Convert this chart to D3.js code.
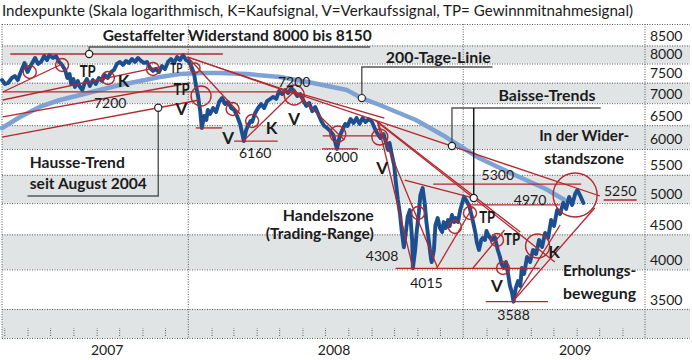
<!DOCTYPE html>
<html><head><meta charset="utf-8">
<script src="https://cdn.jsdelivr.net/npm/d3@7"></script>
<style>
body{margin:0;background:#fff}
svg{display:block}
text{font-family:Lato,"Open Sans","DejaVu Sans",sans-serif;fill:#1b1b1b}
</style></head>
<body><svg id="chart" width="692" height="360"></svg>
<script>
// ---------------- DATA ----------------
const titleText = "Indexpunkte (Skala logarithmisch, K=Kaufsignal, V=Verkaufssignal, TP= Gewinnmitnahmesignal)";
const xDomain = ["2007-04-28", "2009-08-31"];
const yDomain = [3175, 9138];
const yTicks = [8500, 8000, 7500, 7000, 6500, 6000, 5500, 5000, 4500, 4000, 3500];
const bandTops = [8500, 7500, 6500, 5500, 4500, 3500];
const bandBottoms = [8000, 7000, 6000, 5000, 4000, 3175];
const yearStarts = ["2008-01-01", "2009-01-01"];
const yearLabels = ["2007", "2008", "2009"];
const yearLabelDates = ["2007-09-15", "2008-07-13", "2009-05-30"];

const priceDates = [
"2007-04-28",
"2007-05-02","2007-05-06","2007-05-11","2007-05-15","2007-05-19","2007-05-23","2007-05-28",
"2007-06-01","2007-06-05","2007-06-11","2007-06-15","2007-06-19","2007-06-23","2007-06-27","2007-06-30",
"2007-07-05","2007-07-09","2007-07-13","2007-07-17","2007-07-21","2007-07-24","2007-07-27","2007-07-29",
"2007-08-01","2007-08-03","2007-08-07","2007-08-09","2007-08-13","2007-08-16","2007-08-19","2007-08-23","2007-08-27","2007-08-31",
"2007-09-04","2007-09-08","2007-09-12","2007-09-16","2007-09-20","2007-09-24","2007-09-28",
"2007-10-02","2007-10-06","2007-10-10","2007-10-14","2007-10-18","2007-10-22","2007-10-26","2007-10-30",
"2007-11-03","2007-11-07","2007-11-11","2007-11-15","2007-11-19","2007-11-23","2007-11-27",
"2007-12-01","2007-12-05","2007-12-09","2007-12-13","2007-12-17","2007-12-21","2007-12-25","2007-12-29",
"2008-01-02","2008-01-06","2008-01-09","2008-01-11","2008-01-14","2008-01-17","2008-01-19","2008-01-22","2008-01-25","2008-01-27","2008-01-30",
"2008-02-03","2008-02-07","2008-02-11","2008-02-15","2008-02-19","2008-02-23","2008-02-27",
"2008-03-02","2008-03-06","2008-03-10","2008-03-15","2008-03-18","2008-03-21","2008-03-24","2008-03-26","2008-03-30",
"2008-04-03","2008-04-07","2008-04-11","2008-04-15","2008-04-19","2008-04-23","2008-04-27",
"2008-05-01","2008-05-05","2008-05-09","2008-05-13","2008-05-17","2008-05-21","2008-05-25","2008-05-29",
"2008-06-02","2008-06-06","2008-06-10","2008-06-14","2008-06-18","2008-06-22","2008-06-26","2008-06-30",
"2008-07-04","2008-07-08","2008-07-12","2008-07-17","2008-07-20","2008-07-24","2008-07-28","2008-07-31",
"2008-08-04","2008-08-08","2008-08-12","2008-08-16","2008-08-20","2008-08-24","2008-08-28",
"2008-09-01","2008-09-05","2008-09-09","2008-09-13","2008-09-17","2008-09-20","2008-09-23","2008-09-25","2008-09-28",
"2008-10-01","2008-10-03","2008-10-06","2008-10-09","2008-10-11","2008-10-14","2008-10-17","2008-10-19","2008-10-22","2008-10-25","2008-10-26","2008-10-29","2008-10-31",
"2008-11-03","2008-11-05","2008-11-08","2008-11-11","2008-11-13","2008-11-16","2008-11-19","2008-11-20","2008-11-23","2008-11-25","2008-11-28",
"2008-12-01","2008-12-04","2008-12-06","2008-12-09","2008-12-12","2008-12-14","2008-12-17","2008-12-20","2008-12-22","2008-12-25","2008-12-28",
"2009-01-02","2009-01-05","2009-01-09","2009-01-13","2009-01-17","2009-01-19","2009-01-22","2009-01-25","2009-01-27","2009-01-30",
"2009-02-01","2009-02-04","2009-02-08","2009-02-12","2009-02-16","2009-02-19","2009-02-21","2009-02-24","2009-02-27",
"2009-03-02","2009-03-04","2009-03-07","2009-03-09","2009-03-12","2009-03-15","2009-03-18","2009-03-20","2009-03-23","2009-03-27","2009-03-31",
"2009-04-04","2009-04-08","2009-04-12","2009-04-16","2009-04-20","2009-04-24","2009-04-28",
"2009-05-02","2009-05-06","2009-05-10","2009-05-14","2009-05-18","2009-05-22","2009-05-26","2009-05-30",
"2009-06-02","2009-06-06","2009-06-10"
];
const priceValues = [
7568,
7467,7492,7619,7670,7568,7774,8014,
7774,7933,8150,7987,8041,8204,8095,8232,
8150,8204,8041,7960,7827,7619,7722,7467,
7594,7392,7543,7417,7317,7492,7594,7417,7568,7467,
7619,7543,7696,7619,7774,7827,7987,
8041,7960,8068,8014,8122,8041,8150,8068,
8014,8041,7880,7801,7853,7774,7933,
7853,8041,8122,8014,8177,8095,8232,8095,
8041,7880,7696,7442,7171,6795,6438,6704,6614,6841,6750,
6887,6795,7028,7123,6980,7028,6887,
6841,6704,6526,6160,6395,6504,6592,6570,6772,
6887,6980,6887,7051,7099,7147,7099,
7292,7219,7317,7244,7367,7292,7171,7219,
7075,6934,7004,6814,6910,6750,6592,6482,
6438,6374,6288,6000,6225,6395,6526,6482,
6636,6548,6659,6526,6659,6570,6636,
6592,6438,6309,6225,6309,6141,5979,6121,5879,
5684,5404,5052,4804,4567,4308,4567,4772,4885,4416,4015,4270,4536,
4852,5138,5260,4968,4691,4416,4156,4100,4270,4645,4755,
4598,4536,4691,4598,4723,4629,4804,4691,4755,4691,4885,
5104,5052,4951,4755,4536,4386,4270,4416,4446,4416,
4552,4476,4416,4461,4270,4170,4073,4019,4100,
3925,3795,3694,3588,3757,3846,3782,4019,3938,4170,4100,
4270,4212,4416,4313,4521,4446,4723,
4629,4885,4820,5002,4902,5104,4968,5155,
5225,5121,5002
];

// 200-Tage-Linie
const maDates = ["2007-04-28","2007-05-22","2007-06-17","2007-07-14","2007-08-10","2007-09-05","2007-10-02","2007-10-29","2007-11-24","2007-12-21","2008-01-16","2008-02-12","2008-03-19","2008-05-02","2008-06-15","2008-07-30","2008-08-19","2008-09-12","2008-10-30","2008-12-09","2009-01-22","2009-03-08","2009-04-21","2009-05-16"];
const maValues = [6438,6682,6911,7075,7195,7317,7442,7542,7645,7722,7748,7748,7722,7645,7492,7317,7120,6957,6614,6245,5820,5514,5243,5052];

// Trendlinien / Unterstuetzungen / Widerstaende: [startDate, startValue, endDate, endValue]
const trendLines = [
["2007-05-09",8260,"2008-02-16",8260],
["2007-04-29",7270,"2008-05-18",7270],
["2008-01-11",6440,"2008-02-15",6440],
["2008-03-02",6160,"2008-04-29",6160],
["2008-06-27",6000,"2008-08-14",6000],
["2008-06-28",6270,"2008-09-12",6270],
["2008-11-22",5330,"2009-06-07",5330],
["2009-01-07",4970,"2009-05-10",4970],
["2008-10-03",4015,"2009-04-13",4015],
["2009-01-31",3588,"2009-04-24",3588],
["2007-04-28",6246,"2008-01-16",7075],
["2007-04-29",6682,"2008-01-03",7492],
["2007-04-29",7075,"2007-11-24",7907],
["2007-04-29",7268,"2007-07-17",7987],
["2007-12-31",8177,"2009-07-02",5121],
["2007-12-31",8177,"2008-05-29",7171],
["2007-12-31",8177,"2008-03-10",6750],
["2008-05-19",7317,"2008-07-27",6183],
["2008-03-14",6160,"2008-05-23",7317],
["2008-05-22",7268,"2008-09-18",6659],
["2008-09-09",6570,"2008-10-26",4019],
["2008-09-09",6570,"2008-11-28",4019],
["2008-09-05",6614,"2009-05-03",4100],
["2008-09-08",6592,"2009-03-18",4536],
["2008-10-15",5404,"2009-01-15",5086],
["2008-11-27",4019,"2009-01-13",4918],
["2009-01-14",4019,"2009-02-25",4567],
["2009-03-08",3588,"2009-05-10",4645],
["2009-03-08",3588,"2009-06-25",4918]
];

// Signal-Kreise: [date, value, kind]
const signalCircles = [
["2007-06-04",7774,"s"],["2007-07-17",7960,"s"],["2007-09-16",7619,"s"],["2007-11-15",7853,"s"],
["2008-01-10",7880,"xs"],["2008-01-18",7171,"m"],["2008-02-29",6864,"s"],["2008-03-26",6592,"s"],
["2008-05-21",7195,"m"],["2008-07-18",6309,"sm"],["2008-09-12",6246,"sm"],["2008-11-02",4836,"s"],
["2008-12-21",4614,"s"],["2009-01-10",4836,"s"],["2009-02-15",4416,"s"],["2009-02-23",4019,"s"],
["2009-04-10",4328,"l"],["2009-05-30",5138,"xl"]
];

// Hinweislinien (Legenden-Zeiger)
const calloutPaths = [
[["2007-08-22",8260],["2007-08-22",8457],["2008-08-30",8457]],
[["2007-11-22",6892],["2007-11-22",5121],["2007-06-01",5121]],
[["2008-08-19",7120],["2008-08-19",7906],["2009-02-09",7906]],
[["2008-12-17",6060],["2008-12-17",6887],["2009-07-03",6887]],
[["2009-01-15",5086],["2009-01-15",6887]]
];

// Beschriftungen: [text, date, value]
const labelsStart = [
["Gestaffelter Widerstand 8000 bis 8150","2007-09-09",8630],
["200-Tage-Linie","2008-09-20",8014],
["Baisse-Trends","2009-02-17",7051],
["Hausse-Trend","2007-06-04",5627],
["seit August 2004","2007-06-04",5243],
["Erholungs-","2009-05-14",3912],
["bewegung","2009-05-14",3620]
];
const labelsMiddle = [
["In der Wider-","2009-06-11",6162],
["standszone","2009-06-11",5703]
];
const labelsEnd = [
["Handelszone","2008-09-04",4707],
["(Trading-Range)","2008-09-04",4431]
];
const signalLabels = [
["TP","2007-08-20",7645],["K","2007-10-07",7392],["TP","2007-12-16",7750],["TP","2007-12-23",7195],
["V","2007-12-23",6727],["V","2008-02-23",6100],["K","2008-04-21",6309],["V","2008-05-21",6504],
["V","2008-09-15",5515],["TP","2009-02-02",4676],["TP","2009-03-07",4342],["K","2009-05-02",4156],
["V","2009-02-15",3707]
];
const compactSignals = [2]; // kleiner gesetztes Signal (oberes TP im Dezember 2007)
const levelLabels = [
["7200","2007-09-19",6887],["7200","2008-05-21",7392],["6160","2008-03-30",5820],["6000","2008-07-23",5742],
["5300","2009-02-16",5404],["4970","2009-03-31",4968],["4308","2008-09-15",4114],["4015","2008-11-13",3757],
["3588","2009-03-09",3373],["5250","2009-07-29",5121]
];
const underline5250 = [["2009-07-07",5052],["2009-08-20",5052]];

// ---------------- CHART ----------------
const P = d3.timeParse("%Y-%m-%d");
const svg = d3.select("#chart");
const plotLeft = 2, plotRight = 645, plotTop = 24, plotBottom = 338, bandRight = 690;
const x = d3.scaleTime().domain(xDomain.map(P)).range([plotLeft, plotRight]);
const y = d3.scaleLog().domain(yDomain).range([plotBottom, plotTop]);
const RED = "#b3282e", GRID = "#5a5a5a";

// bands
svg.append("g").selectAll("rect").data(d3.zip(bandTops, bandBottoms)).join("rect")
  .attr("x", plotLeft).attr("width", bandRight - plotLeft)
  .attr("y", d => y(d[0])).attr("height", d => y(d[1]) - y(d[0]))
  .attr("fill", "#e1e4e5");

// horizontal grid
const gGrid = svg.append("g").attr("transform", `translate(${plotLeft},0)`)
  .call(d3.axisRight(y).tickValues(yTicks.concat(yDomain)).tickSize(bandRight - plotLeft).tickFormat(""));
gGrid.select(".domain").remove();
gGrid.selectAll("line").attr("stroke", GRID).attr("stroke-dasharray", "1,1.5");

// vertical grid
const vLines = [P(xDomain[0]), ...yearStarts.map(P), P(xDomain[1])];
svg.append("g").selectAll("line").data(vLines).join("line")
  .attr("x1", d => x(d)).attr("x2", d => x(d))
  .attr("y1", y(yDomain[1])).attr("y2", y(yDomain[0]))
  .attr("stroke", GRID).attr("stroke-dasharray", "1,1.5");

// month ticks
const gMonths = svg.append("g").attr("transform", `translate(0,${plotBottom - 2})`)
  .call(d3.axisTop(x).tickValues(x.ticks(d3.timeMonth.every(1)).filter(d => d.getMonth() !== 0 && x(d) < plotRight - 2))
    .tickSize(8).tickFormat(""));
gMonths.select(".domain").remove();
gMonths.selectAll("line").attr("stroke", GRID).attr("stroke-dasharray", "1,1.5");

// y labels
const gY = svg.append("g").attr("transform", `translate(${plotRight},0)`)
  .call(d3.axisRight(y).tickValues(yTicks).tickSize(0).tickPadding(5).tickFormat(d3.format("d")));
gY.select(".domain").remove();
gY.selectAll("text").attr("dy", 0).attr("y", -5).style("font-size", "14px")
  .style("font-family", "Lato, 'Open Sans', sans-serif").attr("fill", "#1b1b1b");

// year labels
svg.append("g").selectAll("text").data(d3.zip(yearLabels, yearLabelDates)).join("text")
  .attr("x", d => x(P(d[1]))).attr("y", 355).attr("text-anchor", "middle")
  .style("font-size", "14px").text(d => d[0]);

// title
svg.append("text").attr("x", 2).attr("y", 16).style("font-size", "16px")
  .attr("textLength", 631).attr("lengthAdjust", "spacingAndGlyphs").text(titleText);

const lineGen = d3.line().x(d => x(P(d[0]))).y(d => y(d[1]));

// 200-day line
svg.append("path").datum(d3.zip(maDates, maValues)).attr("d", lineGen)
  .attr("fill", "none").attr("stroke", "#7fa2d4").attr("stroke-width", 4.5)
  .attr("stroke-linecap", "round").attr("stroke-linejoin", "round");

// price
svg.append("path").datum(d3.zip(priceDates, priceValues)).attr("d", lineGen)
  .attr("fill", "none").attr("stroke", "#1d4f90").attr("stroke-width", 3.9)
  .attr("stroke-linejoin", "round").attr("stroke-linecap", "round");

// trend lines
svg.append("g").selectAll("line").data(trendLines).join("line")
  .attr("x1", d => x(P(d[0]))).attr("y1", d => y(d[1]))
  .attr("x2", d => x(P(d[2]))).attr("y2", d => y(d[3]))
  .attr("stroke", RED).attr("stroke-width", 1.3);

// circles
const radius = {xs: 5, s: 6.5, sm: 8, m: 10, l: 12, xl: 22};
svg.append("g").selectAll("circle").data(signalCircles).join("circle")
  .attr("cx", d => x(P(d[0]))).attr("cy", d => y(d[1])).attr("r", d => radius[d[2]])
  .attr("fill", "none").attr("stroke", RED).attr("stroke-width", 1.4);

// underline 5250
svg.append("path").datum(underline5250).attr("d", lineGen).attr("stroke", RED).attr("stroke-width", 1.5);

// callouts
svg.append("g").selectAll("path").data(calloutPaths).join("path")
  .attr("d", lineGen).attr("fill", "none")
  .attr("stroke", (d, i) => i === 4 ? "#111" : "#555").attr("stroke-width", 1.4);
svg.append("g").selectAll("circle").data(calloutPaths).join("circle")
  .attr("cx", d => x(P(d[0][0]))).attr("cy", d => y(d[0][1])).attr("r", 3.6)
  .attr("fill", "#fff").attr("stroke", "#222").attr("stroke-width", 1.2);

// text labels
const fit = {
  "Gestaffelter Widerstand 8000 bis 8150": 269, "200-Tage-Linie": 105, "Baisse-Trends": 97,
  "Hausse-Trend": 95, "seit August 2004": 117, "Erholungs-": 73, "bewegung": 73,
  "In der Wider-": 90, "standszone": 80, "Handelszone": 91, "(Trading-Range)": 108
};
function addLabels(data, anchor, size, weight) {
  return svg.append("g").selectAll("text").data(data).join("text")
    .attr("x", d => x(P(d[1]))).attr("y", d => y(d[2]))
    .attr("text-anchor", anchor).style("font-size", size + "px").style("font-weight", weight)
    .text(d => d[0])
    .each(function(d) {
      if (fit[d[0]]) d3.select(this).attr("textLength", fit[d[0]]).attr("lengthAdjust", "spacingAndGlyphs");
    });
}
addLabels(labelsStart, "start", 16, 700);
addLabels(labelsMiddle, "middle", 16, 700);
addLabels(labelsEnd, "end", 16, 700);
addLabels(signalLabels, "middle", 17, 700)
  .each(function(d, i) {
    const small = compactSignals.includes(i);
    if (small) d3.select(this).style("font-size", "14px");
    if (d[0] === "TP") d3.select(this).attr("textLength", small ? 12 : 16).attr("lengthAdjust", "spacingAndGlyphs");
  });
addLabels(levelLabels, "middle", 14, 400);
</script>
</body></html>
